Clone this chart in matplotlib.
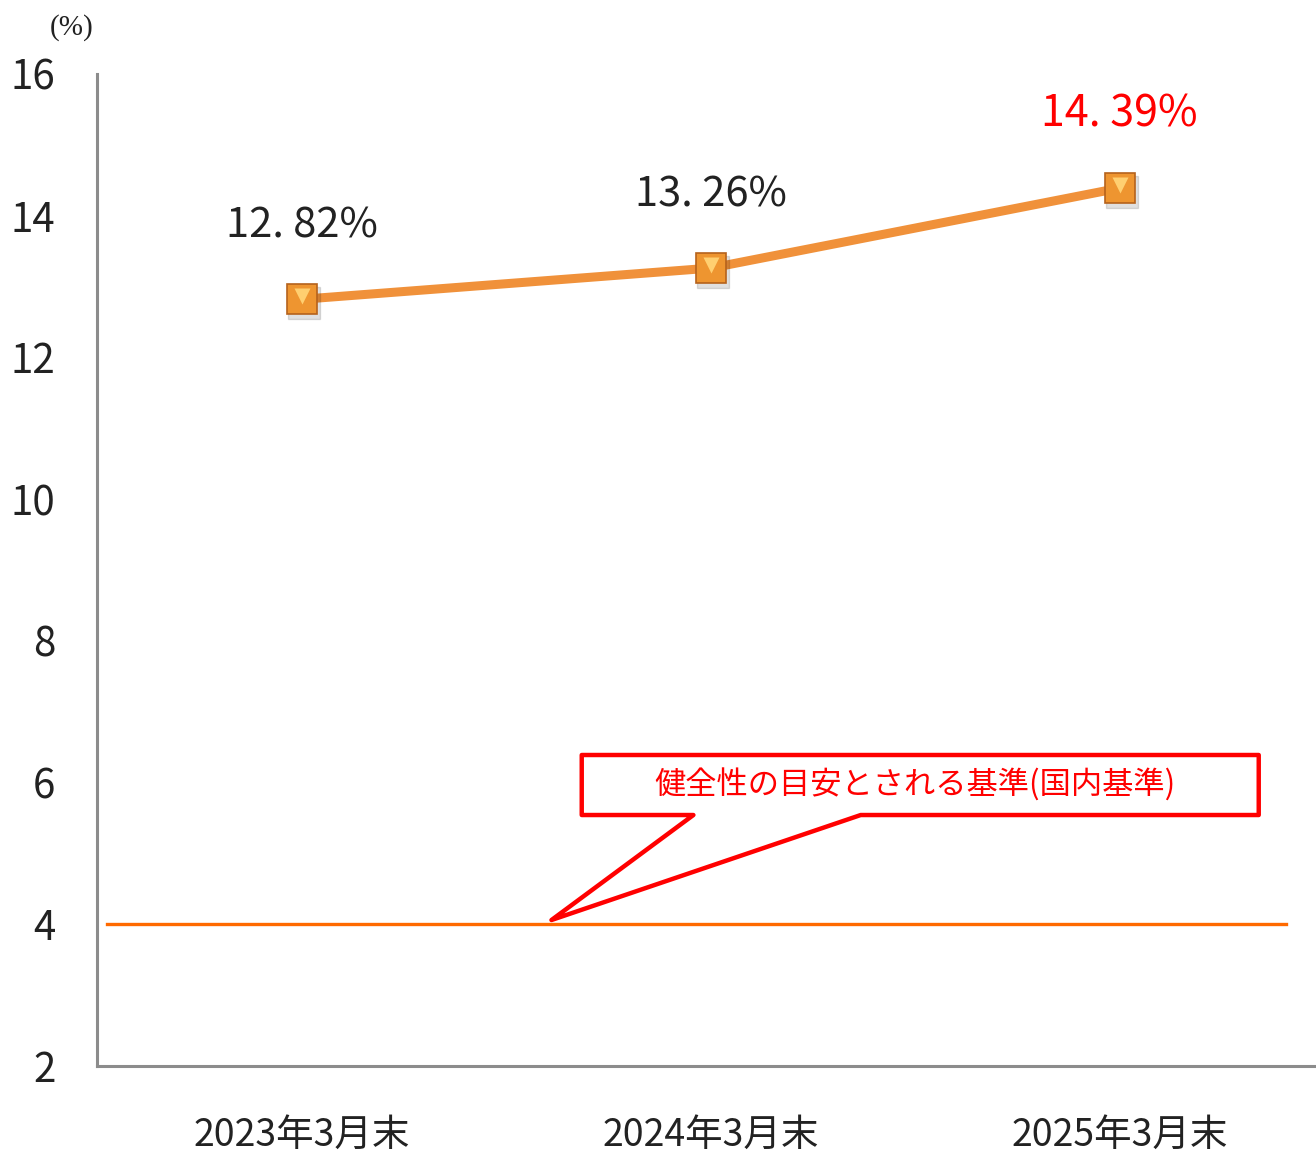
import matplotlib
matplotlib.use("Agg")
import matplotlib.pyplot as plt
from matplotlib.patches import Polygon

# data
periods = ["2023年3月末", "2024年3月末", "2025年3月末"]
ratios = [12.82, 13.26, 14.39]
ratio_labels = ["12. 82%", "13. 26%", "14. 39%"]
label_colors = ["#222222", "#222222", "#FF0000"]
label_sizes = [30, 30, 31]
domestic_standard = 4
y_ticks = [2, 4, 6, 8, 10, 12, 14, 16]
callout_text = "健全性の目安とされる基準(国内基準)"

cjk = ["Noto Sans CJK JP", "DejaVu Sans"]

fig = plt.figure(figsize=(13.16, 11.63), dpi=100)
ax = fig.add_axes([0.0737, 0.0834, 0.9263, 0.853])

x = list(range(len(periods)))

# 4% line
ax.axhline(domestic_standard, xmin=0.008, xmax=0.975, color="#FF6A00", lw=2.4, zorder=2)

# main line
ax.plot(x, ratios, color="#F0913A", lw=6.5, solid_capstyle="round", zorder=3)
# marker shadow
ax.plot([v + 0.005 for v in x], [r - 0.05 for r in ratios], ls="none", marker="s",
        ms=23, color="#000000", alpha=0.12, zorder=3)
ax.plot(x, ratios, ls="none", marker="s", ms=21, mfc="#EE9530", mec="#B5621C",
        mew=1.2, zorder=4)
ax.plot(x, [r + 0.05 for r in ratios], ls="none", marker="v", ms=11,
        mfc="#FFCF70", mec="none", zorder=5)

for xi, r, lab, c, fs in zip(x, ratios, ratio_labels, label_colors, label_sizes):
    ax.annotate(lab, (xi, r), xytext=(0, 53), textcoords="offset points",
                ha="center", va="center", fontsize=fs, color=c, family=cjk)

# callout
pts = [(0.685, 6.389), (2.340, 6.389), (2.340, 5.542), (1.367, 5.542),
       (0.611, 4.06), (0.958, 5.542), (0.685, 5.542)]
ax.add_patch(Polygon(pts, closed=True, facecolor="white", edgecolor="#FF0000",
                     lw=3.2, joinstyle="round", zorder=6))
ax.text(1.5, 5.96, callout_text, ha="center", va="center", fontsize=22.5,
        color="#FF0000", family=cjk, zorder=7)

ax.set_xlim(-0.5, 2.48)
ax.set_ylim(2, 16)
ax.set_yticks(y_ticks)
ax.set_yticklabels([str(t) for t in y_ticks], family=cjk, fontsize=29, color="#222222")
ax.set_xticks(x)
ax.set_xticklabels(periods, family=cjk, fontsize=27, color="#222222")
ax.tick_params(axis="y", length=0, pad=30)
ax.tick_params(axis="x", length=0, pad=36)

for s in ["top", "right"]:
    ax.spines[s].set_visible(False)
for s in ["left", "bottom"]:
    ax.spines[s].set_color("#8C8C8C")
    ax.spines[s].set_linewidth(2.2)

fig.text(72 / 1316, 1 - 28 / 1163, "(%)", ha="center", va="center",
         fontsize=21, family="Liberation Serif", color="#222222")

fig.savefig("out.png", dpi=100, facecolor="white")
